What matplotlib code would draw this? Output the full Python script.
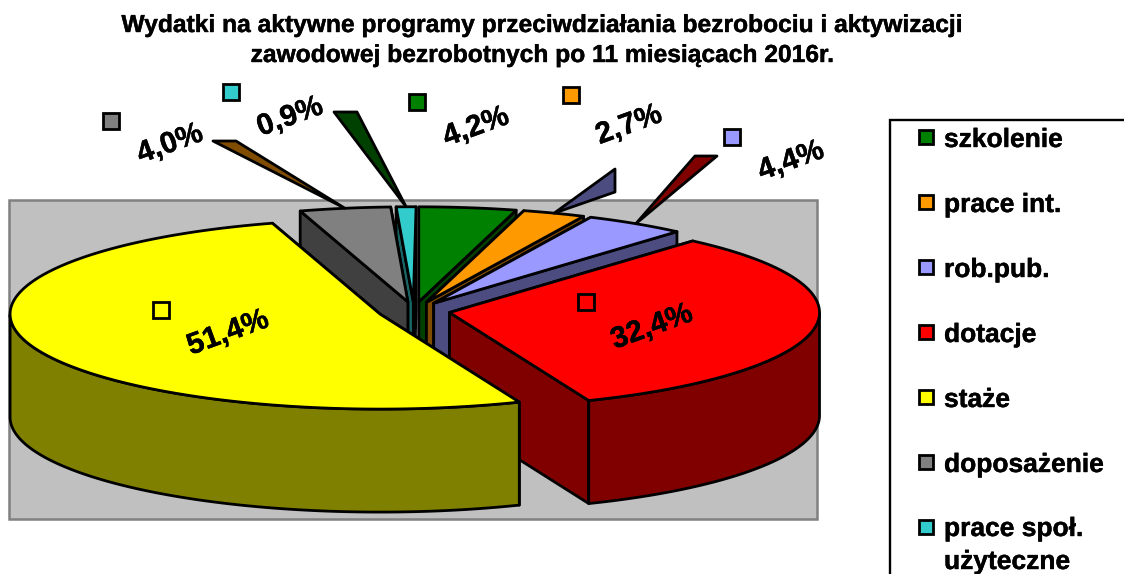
import numpy as np
import matplotlib
matplotlib.use("Agg")
import matplotlib.pyplot as plt
import matplotlib.patheffects as pe
from matplotlib.patches import Rectangle

plt.rcParams['font.family'] = ['Liberation Sans', 'DejaVu Sans']

title = "Wydatki na aktywne programy przeciwdziałania bezrobociu i aktywizacji\nzawodowej bezrobotnych po 11 miesiącach 2016r."
categories = ["szkolenie", "prace int.", "rob.pub.", "dotacje", "staże", "doposażenie", "prace społ.\nużyteczne"]
values = [4.24, 2.74, 4.44, 32.44, 51.44, 3.96, 0.86]
colors = ["#008000", "#FF9900", "#9999FF", "#FF0000", "#FFFF00", "#808080", "#33CCCC"]
sides = ["#004000", "#804C00", "#4C4C80", "#800000", "#808000", "#404040", "#1A6666"]

# pie geometry, in pixels of the original picture
cx, cy = 414, 311
rx, ry = 370, 95
depth = 103
explode = 36

# label centres and little key squares, same order as categories
label_pos = [(476, 127), (629, 125), (791, 161), (652, 327), (228, 333), (170, 144), (290, 117)]
key_pos = [(417, 102), (571, 95), (732, 137), (586, 302), (161, 310), (111, 121), (231, 92)]
# the odd spikes on the rim: slice index -> (tip a, tip b, colour of the spike)
spikes = {1: ((615, 169), (615, 192), 2), 2: ((695, 156), (717, 156), 3),
          5: ((213, 141), (236, 141), 1), 6: ((334, 112), (357, 112), 0)}

fig = plt.figure(figsize=(11.24, 5.74), dpi=100)
ax = fig.add_axes([0, 0, 1, 1])
ax.set_xlim(0, 1124)
ax.set_ylim(574, 0)
ax.axis("off")

lw = 2
heavy = [pe.withStroke(linewidth=0.3, foreground="black")]
ax.add_patch(Rectangle((9, 200), 808, 319, fc="#C0C0C0", ec="#808080", lw=1.8, zorder=1))


def rim(apex, t):
    return apex[0] + rx * np.cos(t), apex[1] - ry * np.sin(t)


def poly(xs, ys, color, z):
    ax.fill(xs, ys, facecolor=color, edgecolor="black", lw=lw, joinstyle="round", zorder=z)


# angles go clockwise from 12 o'clock
ends = 90 - np.cumsum(values) * 3.6
starts = np.concatenate([[90], ends[:-1]])
draw_order = [6, 5, 0, 1, 2, 3, 4]
z = 2
apexes = {}
for i in draw_order:
    t0, t1 = np.radians(starts[i]), np.radians(ends[i])
    mid = (t0 + t1) / 2
    apex = (cx + explode * np.cos(mid), cy - explode * ry / rx * np.sin(mid))
    apexes[i] = apex
    # cut faces, the one that can be seen goes last
    cuts = (t0, t1) if np.cos(mid) > 0 else (t1, t0)
    for t in cuts:
        xr, yr = rim(apex, t)
        poly([apex[0], xr, xr, apex[0]], [apex[1], yr, yr + depth, apex[1] + depth], sides[i], z)
    # outer wall, only the front half of the ellipse can be seen
    ts = np.linspace(t1, t0, 200)
    ts = ts[np.sin(ts) <= 0]
    if len(ts) > 1:
        xr, yr = rim(apex, ts)
        poly(np.r_[xr, xr[::-1]], np.r_[yr, yr[::-1] + depth], sides[i], z)
    # top
    ts = np.linspace(t0, t1, 200)
    xr, yr = rim(apex, ts)
    poly(np.r_[apex[0], xr], np.r_[apex[1], yr], colors[i], z + 0.5)
    z += 1

for i, (a, b, c) in spikes.items():
    root = rim(apexes[i], np.radians((starts[i] + ends[i]) / 2))
    poly([root[0], a[0], b[0]], [root[1], a[1], b[1]], sides[c], 20)

for i, v in enumerate(values):
    ax.text(label_pos[i][0], label_pos[i][1], f"{v:.1f}%".replace(".", ","), fontsize=21.5, fontweight="bold",
            rotation=20, ha="center", va="center", rotation_mode="anchor", zorder=30, path_effects=heavy)
    ax.plot(key_pos[i][0], key_pos[i][1], marker="s", ms=11.5, mfc=colors[i], mec="black", mew=lw, zorder=30)

ax.text(543, 25, title.split("\n")[0], fontsize=17.7, fontweight="bold", ha="center", va="center", path_effects=heavy)
ax.text(543, 55, title.split("\n")[1], fontsize=17.7, fontweight="bold", ha="center", va="center", path_effects=heavy)

# legend box runs off the picture on the right and at the bottom
ax.plot([1124, 890, 890], [120, 120, 574], color="black", lw=1.7, solid_joinstyle="miter", zorder=30)
for i, name in enumerate(categories):
    y = 137 + 65 * i
    ax.plot(926, y, marker="s", ms=9.5, mfc=colors[i], mec="black", mew=lw, zorder=30)
    if "\n" in name:
        # two line entry, spacing of the lines as in the picture
        ax.text(944, y + 2, name.split("\n")[0], fontsize=19, fontweight="bold", va="center", path_effects=heavy)
        ax.text(944, y + 35, name.split("\n")[1], fontsize=19, fontweight="bold", va="center", path_effects=heavy)
    else:
        ax.text(944, y + 3, name, fontsize=19, fontweight="bold", va="center", path_effects=heavy)

fig.savefig("out.png", dpi=100)
